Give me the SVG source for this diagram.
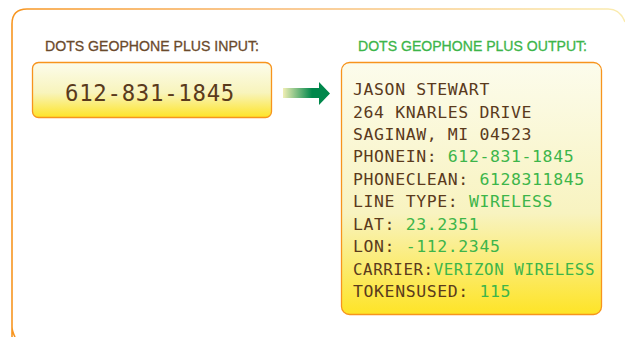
<svg xmlns="http://www.w3.org/2000/svg" width="625" height="337" viewBox="0 0 625 337">
<defs>
<linearGradient id="frameGrad" gradientUnits="userSpaceOnUse" x1="0" y1="0" x2="625" y2="0">
<stop offset="0" stop-color="#f7941d"/>
<stop offset="0.45" stop-color="#f8b870"/>
<stop offset="1" stop-color="#faecb0"/>
</linearGradient>
<linearGradient id="boxGrad" x1="0" y1="0" x2="0" y2="1">
<stop offset="0" stop-color="#fcfcec"/>
<stop offset="0.55" stop-color="#f8f4bc"/>
<stop offset="1" stop-color="#fee426"/>
</linearGradient>
<linearGradient id="boxGrad2" x1="0" y1="0" x2="0" y2="1">
<stop offset="0" stop-color="#fcfcec"/>
<stop offset="0.6" stop-color="#f8f3c0"/>
<stop offset="1" stop-color="#fee426"/>
</linearGradient>
<linearGradient id="arrowGrad" gradientUnits="userSpaceOnUse" x1="283" y1="0" x2="312" y2="0">
<stop offset="0" stop-color="#f1efb5"/>
<stop offset="1" stop-color="#00874b"/>
</linearGradient>
<style>
.label{font-family:"Liberation Sans",Arial,sans-serif;font-size:14.5px;stroke-width:0.3px;}
.brown{fill:#5a3a1c;}
.green{fill:#3db54a;}
.mono{font-family:"DejaVu Sans Mono","Liberation Mono",monospace;}
.out{font-size:16.5px;letter-spacing:0.6px;}
.box{stroke:#f7941d;stroke-width:1.3;}
</style>
</defs>
<path id="frame" d="M12,337 L12,327 Q12,331 15,337 M12,327 L12,24 Q12,9 27,9 L608,9 Q620,9 625,22" fill="none" stroke="url(#frameGrad)" stroke-width="1.6"/>
<g id="input-label"><text class="label" x="45" y="50.5" fill="#6b4a2c" stroke="#6b4a2c" textLength="214" lengthAdjust="spacingAndGlyphs">DOTS GEOPHONE PLUS INPUT:</text></g>
<g id="output-label"><text class="label green" x="358" y="50.5" stroke="#3db54a" textLength="229" lengthAdjust="spacingAndGlyphs">DOTS GEOPHONE PLUS OUTPUT:</text></g>
<g id="input-box">
<rect class="box" x="32.5" y="62.5" width="239" height="55" rx="6" fill="url(#boxGrad)"/>
<text class="mono brown" x="65" y="100.5" font-size="23" letter-spacing="0.75" textLength="170" lengthAdjust="spacingAndGlyphs">612-831-1845</text>
</g>
<g id="connectors">
<path d="M283,88 L319,88 L319,82 L330,93.5 L319,105 L319,98 L283,98 Z" fill="url(#arrowGrad)"/>
</g>
<g id="output-box">
<rect class="box" x="341.5" y="62.5" width="260" height="252" rx="8" fill="url(#boxGrad2)"/>
<g class="mono out">
<text class="brown" x="353" y="95">JASON STEWART</text>
<text class="brown" x="353" y="117.5">264 KNARLES DRIVE</text>
<text class="brown" x="353" y="140">SAGINAW, MI 04523</text>
<text class="brown" x="353" y="162">PHONEIN: <tspan class="green">612-831-1845</tspan></text>
<text class="brown" x="353" y="184.5">PHONECLEAN: <tspan class="green">6128311845</tspan></text>
<text class="brown" x="353" y="207">LINE TYPE: <tspan class="green">WIRELESS</tspan></text>
<text class="brown" x="353" y="229.5">LAT: <tspan class="green">23.2351</tspan></text>
<text class="brown" x="353" y="252">LON: <tspan class="green">-112.2345</tspan></text>
<text class="brown" x="353" y="274.5" textLength="242" lengthAdjust="spacingAndGlyphs">CARRIER:<tspan class="green">VERIZON WIRELESS</tspan></text>
<text class="brown" x="353" y="297">TOKENSUSED: <tspan class="green">115</tspan></text>
</g>
</g>
</svg>
